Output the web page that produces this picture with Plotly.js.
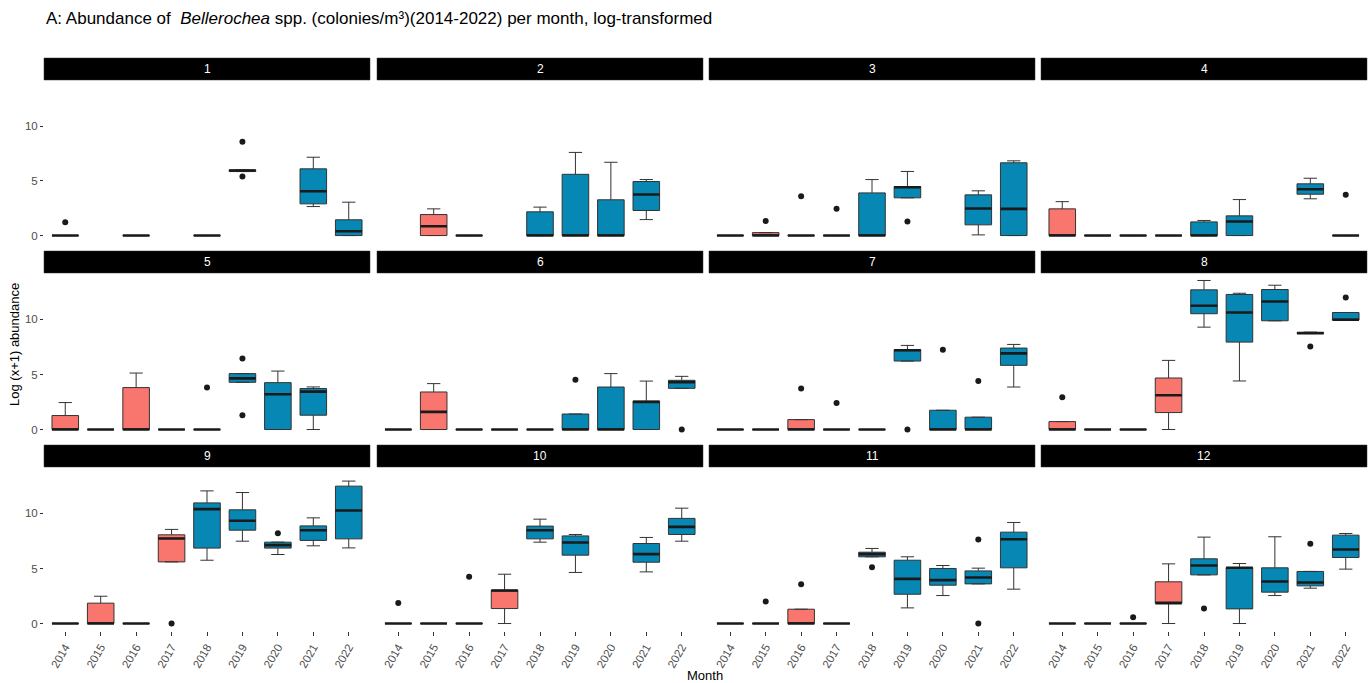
<!DOCTYPE html>
<html><head><meta charset="utf-8">
<script src="https://cdn.plot.ly/plotly-3.0.1.min.js"></script>
<style>html,body{margin:0;padding:0;background:#fff}#chart{width:1370px;height:683px}</style>
</head><body><div id="chart"></div>
<script>
const months = ['1','2','3','4','5','6','7','8','9','10','11','12'];
const years = ['2014','2015','2016','2017','2018','2019','2020','2021','2022'];
const earlyYears = ['2014','2015','2016','2017'];

// per month, per year (2014..2022); null = no data
const q1 = [
  [0,null,0,null,0,5.85,null,2.9,0],
  [null,0,0,null,0,0,0,2.29,null],
  [0,0,0,0,0,3.45,null,0.98,0],
  [0,0,0,0,0,0,null,3.78,0],
  [0,0,0,0,0,4.29,0,1.3,null],
  [0,0,0,0,0,0,0,0,3.74],
  [0,0,0,0,0,6.22,0,0,5.83],
  [0,0,0,1.54,10.52,7.94,9.88,8.72,9.95],
  [0,0,0,5.6,6.85,8.48,6.85,7.55,7.69],
  [0,0,0,1.36,7.69,6.21,null,5.57,8.09],
  [0,0,0,0,6.06,2.66,3.48,3.6,5.06],
  [0,0,0,1.85,4.42,1.33,2.85,3.42,6.0]
];
const median = [
  [0,null,0,null,0,5.95,null,4.05,0.39],
  [null,0.85,0,null,0,0,0,3.75,null],
  [0,0,0,0,0,4.42,null,2.47,2.44],
  [0,0,0,0,0,1.28,null,4.24,0],
  [0,0,0,0,0,4.65,3.2,3.44,null],
  [0,1.6,0,0,0,0,0,2.5,4.29],
  [0,0,0,0,0,7.2,0,0,6.92],
  [0,0,0,3.11,11.24,10.63,11.63,8.76,9.97],
  [0,0,0,7.73,10.39,9.33,7.12,8.48,10.27],
  [0,0,0,3.0,8.48,7.36,null,6.3,8.78],
  [0,0,0,0,6.3,4.06,3.94,4.18,7.66],
  [0,0,0,1.85,5.27,5.06,3.82,3.73,6.73]
];
const q3 = [
  [0,null,0,null,0,6.0,null,6.1,1.44],
  [null,1.92,0,null,2.17,5.6,3.27,4.94,null],
  [0,0.27,0,0,3.9,4.48,null,3.72,6.65],
  [2.44,0,0,0,1.25,1.8,null,4.73,0],
  [1.27,0,3.81,0,0,5.08,4.26,3.72,null],
  [0,3.41,0,0,0,1.41,3.86,2.6,4.47],
  [0,0,0.9,0,0,7.25,1.75,1.12,7.4],
  [0.72,0,0,4.68,12.69,12.27,12.72,8.8,10.63],
  [0,1.85,0,8.06,10.96,10.33,7.39,8.87,12.48],
  [0,0,0,3.03,8.85,7.96,null,7.27,9.55],
  [0,0,1.3,0,6.48,5.75,5.0,4.78,8.3],
  [0,0,0,3.79,5.88,5.09,5.06,4.73,8.03]
];
const lowerWhisker = [
  [0,null,0,null,0,5.85,null,2.65,0],
  [null,0,0,null,0,0,0,1.46,null],
  [0,0,0,0,0,3.45,null,0.06,0],
  [0,0,0,0,0,0,null,3.36,0],
  [0,0,0,0,0,4.29,0,0,null],
  [0,0,0,0,0,0,0,0,3.74],
  [0,0,0,0,0,6.22,0,0,3.86],
  [0,0,0,0,9.3,4.41,9.88,8.72,9.95],
  [0,0,0,5.6,5.75,7.48,6.27,7.06,6.87],
  [0,0,0,0,7.39,4.64,null,4.69,7.48],
  [0,0,0,0,6.06,1.42,2.54,3.6,3.12],
  [0,0,0,0,4.42,0,2.54,3.21,4.94]
];
const upperWhisker = [
  [0,null,0,null,0,6.0,null,7.16,3.05],
  [null,2.44,0,null,2.6,7.6,6.7,5.12,null],
  [0,0.27,0,0,5.12,5.86,null,4.09,6.83],
  [3.1,0,0,0,1.38,3.29,null,5.24,0],
  [2.45,0,5.13,0,0,5.08,5.31,3.87,null],
  [0,4.17,0,0,0,1.41,5.08,4.4,4.83],
  [0,0,0.9,0,0,7.64,1.75,1.12,7.73],
  [0.72,0,0,6.28,13.54,12.38,13.11,8.85,10.63],
  [0,2.48,0,8.55,12.05,11.9,7.39,9.6,12.94],
  [0,0,0,4.48,9.48,8.09,null,7.82,10.48],
  [0,0,1.3,0,6.82,6.06,5.27,5.03,9.18],
  [0,0,0,5.42,7.85,5.45,7.88,4.73,8.18]
];
// outliers per month: [year, value]
const outliers = [
  [['2014',1.22],['2019',8.57],['2019',5.4]],
  [],
  [['2015',1.34],['2016',3.6],['2017',2.44],['2019',1.28]],
  [['2022',3.72]],
  [['2018',3.81],['2019',6.46],['2019',1.3]],
  [['2019',4.53],['2022',0]],
  [['2016',3.72],['2017',2.41],['2019',0],['2020',7.25],['2021',4.41]],
  [['2014',2.93],['2021',7.55],['2022',12.0]],
  [['2017',0],['2020',8.21]],
  [['2014',1.87],['2016',4.24]],
  [['2015',2.0],['2016',3.57],['2018',5.12],['2021',7.64],['2021',0]],
  [['2016',0.57],['2018',1.36],['2021',7.24]]
];

const W = 1370, H = 683;
const colX = [[44,370],[377,703],[709,1035],[1041,1367]];
const rowY = [[80,243],[273,437],[467,631]];
const stripH = 22;
const salmon = '#F8766D', blue = '#0787B3';

const traces = [];
const layout = {
  width: W, height: H,
  margin: {l:0, r:0, t:0, b:0},
  paper_bgcolor: '#fff', plot_bgcolor: '#fff',
  boxmode: 'overlay', showlegend: false,
  font: {family: 'Liberation Sans, Arial, sans-serif', color: '#000'},
  shapes: [], annotations: []
};

months.forEach((mName, m) => {
  const sfx = m === 0 ? '' : String(m + 1);
  const col = m % 4, row = Math.floor(m / 4);
  const xa = 'x' + sfx, ya = 'y' + sfx;
  const groups = [{fill: salmon, test: y => earlyYears.includes(y)}, {fill: blue, test: y => !earlyYears.includes(y)}];
  const medX = [], medV = [];
  groups.forEach(g => {
    const t = {x:[], q1:[], median:[], q3:[], lowerfence:[], upperfence:[]};
    years.forEach((yr, i) => {
      if (q1[m][i] === null || !g.test(yr)) return;
      t.x.push(yr); t.q1.push(q1[m][i]); t.median.push(median[m][i]); t.q3.push(q3[m][i]);
      t.lowerfence.push(lowerWhisker[m][i]); t.upperfence.push(upperWhisker[m][i]);
      medX.push(yr); medV.push(median[m][i]);
    });
    if (!t.x.length) return;
    traces.push(Object.assign({type:'box', orientation:'v', xaxis:xa, yaxis:ya, width:0.75,
      fillcolor:g.fill, line:{color:'#333333', width:1}, boxpoints:false, hoverinfo:'skip'}, t));
  });
  // thick median lines
  traces.push({type:'box', orientation:'v', xaxis:xa, yaxis:ya, width:0.75, x:medX,
    q1:medV, median:medV, q3:medV, lowerfence:medV, upperfence:medV,
    fillcolor:'rgba(0,0,0,0)', line:{color:'#1a1a1a', width:2.6}, boxpoints:false, hoverinfo:'skip'});
  if (outliers[m].length) {
    traces.push({type:'scatter', mode:'markers', xaxis:xa, yaxis:ya,
      x: outliers[m].map(o => o[0]), y: outliers[m].map(o => o[1]),
      marker:{color:'#1a1a1a', size:6}, hoverinfo:'skip', cliponaxis:false});
  }
  const [x0, x1] = colX[col], [y0, y1] = rowY[row];
  layout['xaxis' + sfx] = {
    domain:[x0/W, x1/W], anchor:ya, type:'category', categoryorder:'array', categoryarray:years,
    range:[-0.6, 8.6], showgrid:false, zeroline:false, showline:false,
    showticklabels: row === 2, ticks: row === 2 ? 'outside' : '', ticklen:4, tickwidth:1, tickcolor:'#333',
    tickangle:-60, tickfont:{size:11.5, color:'#4d4d4d'}, fixedrange:true
  };
  layout['yaxis' + sfx] = {
    domain:[1 - y1/H, 1 - y0/H], anchor:xa, range:[-0.68, 14.22], tick0:0, dtick:5,
    showgrid:false, zeroline:false, showline:false,
    showticklabels: col === 0, ticks: col === 0 ? 'outside' : '', ticklen:3, tickwidth:1, tickcolor:'#333',
    tickfont:{size:11.5, color:'#4d4d4d'}, fixedrange:true
  };
  // strip
  layout.shapes.push({type:'rect', xref:'paper', yref:'paper', x0:x0/W, x1:x1/W,
    y0:1 - y0/H, y1:1 - (y0 - stripH)/H, fillcolor:'#000', line:{color:'#333', width:0.5}, layer:'above'});
  layout.annotations.push({xref:'paper', yref:'paper', x:(x0 + x1)/2/W, y:1 - (y0 - stripH/2)/H,
    text:mName, showarrow:false, font:{size:12, color:'#fff'}, xanchor:'center', yanchor:'middle'});
});

layout.annotations.push({xref:'paper', yref:'paper', x:44/W, y:1 - 18/H, xanchor:'left', yanchor:'middle',
  text:'A: Abundance of  <i>Bellerochea</i> spp. (colonies/m³)(2014-2022) per month, log-transformed',
  showarrow:false, font:{size:17, color:'#000'}});
layout.annotations.push({xref:'paper', yref:'paper', x:705/W, y:1 - 675/H, xanchor:'center', yanchor:'middle',
  text:'Month', showarrow:false, font:{size:13, color:'#000'}});
layout.annotations.push({xref:'paper', yref:'paper', x:14/W, y:1 - 345/H, xanchor:'center', yanchor:'middle',
  text:'Log (x+1) abundance', textangle:-90, showarrow:false, font:{size:13, color:'#000'}});

Plotly.newPlot('chart', traces, layout, {staticPlot:true, displayModeBar:false});
</script>
</body></html>
